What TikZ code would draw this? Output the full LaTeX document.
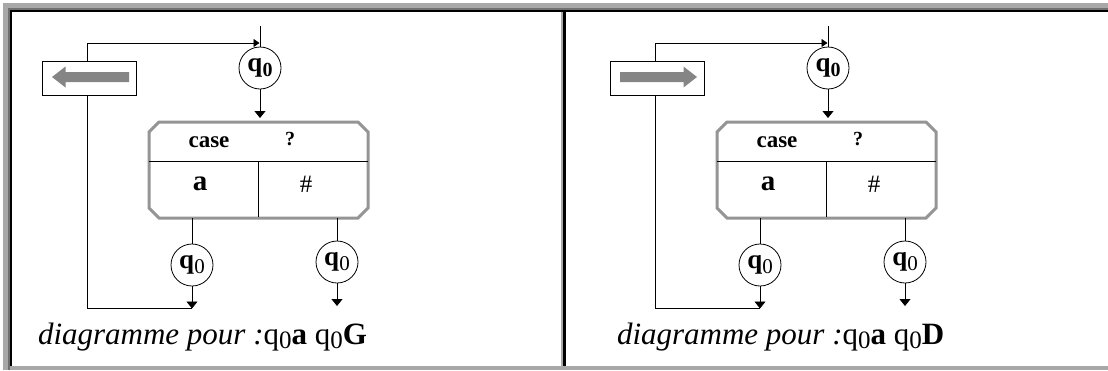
\documentclass[tikz,border=0pt]{standalone}
\usepackage{fontspec}
\setmainfont{Liberation Serif}
\usetikzlibrary{arrows.meta}
\definecolor{lgray}{HTML}{A8A8A8}
\definecolor{dgray}{HTML}{707070}
\definecolor{boxgray}{HTML}{959595}
\definecolor{arrgray}{HTML}{858585}
\tikzset{
  stc/.style={circle, draw, line width=0.8pt, minimum size=42pt, inner sep=0pt},
  wire/.style={line width=0.9pt},
  bigtip/.style={-{Triangle[length=7pt,width=11pt]}},
  smalltip/.style={-{Triangle[length=6pt,width=8pt]}},
  casebd/.style={draw=boxgray, line width=3pt, line join=miter},
  movebox/.style={draw, line width=0.9pt, minimum width=94pt, minimum height=34pt, inner sep=0pt},
  plain/.style={inner sep=0pt, outer sep=0pt},
}
\newcommand\myqtop{\fontsize{27}{27}\selectfont\bfseries q\raisebox{-5pt}{\fontsize{20}{20}\selectfont 0}}
\newcommand\myqbot{\fontsize{27}{27}\selectfont\bfseries q\raisebox{-5pt}{\fontsize{21}{21}\selectfont\mdseries 0}}
\newcommand\mysubz{\raisebox{-4.5pt}{\fontsize{25}{25}\selectfont 0}}
% #1 prefix, #2 x offset, #3 arrow direction (1 left, -1 right), #4 letter, #5 caption x
\newcommand\drawpanel[5]{%
\begin{scope}[xshift=#2pt]
  \node[stc] (#1t) at (260,68) {\myqtop};
  \coordinate (#1top) at (260,26);
  \draw[wire] (#1top) -- (#1t.north);
  \node[movebox] (#1lb) at (89.7,78) {};
  \begin{scope}[xshift=90.5pt, xscale=#3]
    \fill[arrgray] (-38.5,77) -- (-25,66.5) -- (-25,72) -- (38.5,72) -- (38.5,82) -- (-25,82) -- (-25,87.5) -- cycle;
  \end{scope}
  \coordinate (#1fb) at (87.3,43);
  \coordinate (#1fe) at (259.5,43);
  \draw[wire, smalltip] (#1lb.north -| #1fb) -- (#1fb) -- (#1fe);
  \node[plain, minimum width=219pt, minimum height=96pt] (#1cb) at (258.5,170) {};
  \draw[casebd] ([xshift=10pt]#1cb.north west) -- ([xshift=-10pt]#1cb.north east)
     -- ([yshift=-10pt]#1cb.north east) -- ([yshift=10pt]#1cb.south east)
     -- ([xshift=-10pt]#1cb.south east) -- ([xshift=10pt]#1cb.south west)
     -- ([yshift=10pt]#1cb.south west) -- ([yshift=-10pt]#1cb.north west) -- cycle;
  \draw[wire] (149,161) -- (368,161);
  \draw[wire] (258,161) -- (258,217);
  \draw[wire, bigtip] (#1t.south) -- ([yshift=4pt]#1cb.north -| #1t.south);
  \node[font=\fontsize{23}{23}\selectfont\bfseries] (#1case) at (209,142) {case};
  \node[font=\fontsize{20}{20}\selectfont\bfseries] (#1q) at (290,139) {?};
  \node[font=\fontsize{29}{29}\selectfont\bfseries] (#1a) at (200,184) {a};
  \node[font=\fontsize{25}{25}\selectfont] (#1h) at (306,184) {\#};
  \node[stc] (#1c1) at (192,265) {\myqbot};
  \node[stc] (#1c2) at (337,262) {\myqbot};
  \draw[wire] (#1cb.south -| #1c1.north) -- (#1c1.north);
  \draw[wire] (#1cb.south -| #1c2.north) -- (#1c2.north);
  \coordinate (#1e1) at (192,308.5);
  \coordinate (#1e2) at (337,306);
  \draw[wire, bigtip] (#1c1.south) -- (#1e1);
  \draw[wire, bigtip] (#1c2.south) -- (#1e2);
  \draw[wire] (#1lb.south -| #1fb) |- (#1e1);
  \node[anchor=base west, plain] (#1cap) at (#5,344)
    {\fontsize{31}{31}\selectfont\itshape diagramme pour :\upshape q\mysubz\textbf{a} q\mysubz\textbf{#4}};
\end{scope}}
\begin{document}
\begin{tikzpicture}[x=1pt, y=-1pt]
  \useasboundingbox (0,0) rectangle (1108,370);
  \fill[white] (0,0) rectangle (1108,370);
  % table frame
  \fill[lgray] (3,3) rectangle (1108,8);
  \fill[lgray] (3,3) rectangle (8,370);
  \fill[dgray] (8,8) rectangle (1108,9.5);
  \fill[dgray] (8,8) rectangle (9.5,370);
  \fill[black] (9.5,9.5) rectangle (1108,11.5);
  \fill[black] (9.5,9.5) rectangle (11.5,366);
  \fill[lgray] (560.5,11.5) rectangle (563,366);
  \fill[black] (563,9.5) rectangle (565.5,366);
  \fill[lgray] (9.5,366) rectangle (1108,369.5);
  \drawpanel{L}{0}{1}{G}{38}
  \drawpanel{R}{568}{-1}{D}{49}
\end{tikzpicture}
\end{document}
